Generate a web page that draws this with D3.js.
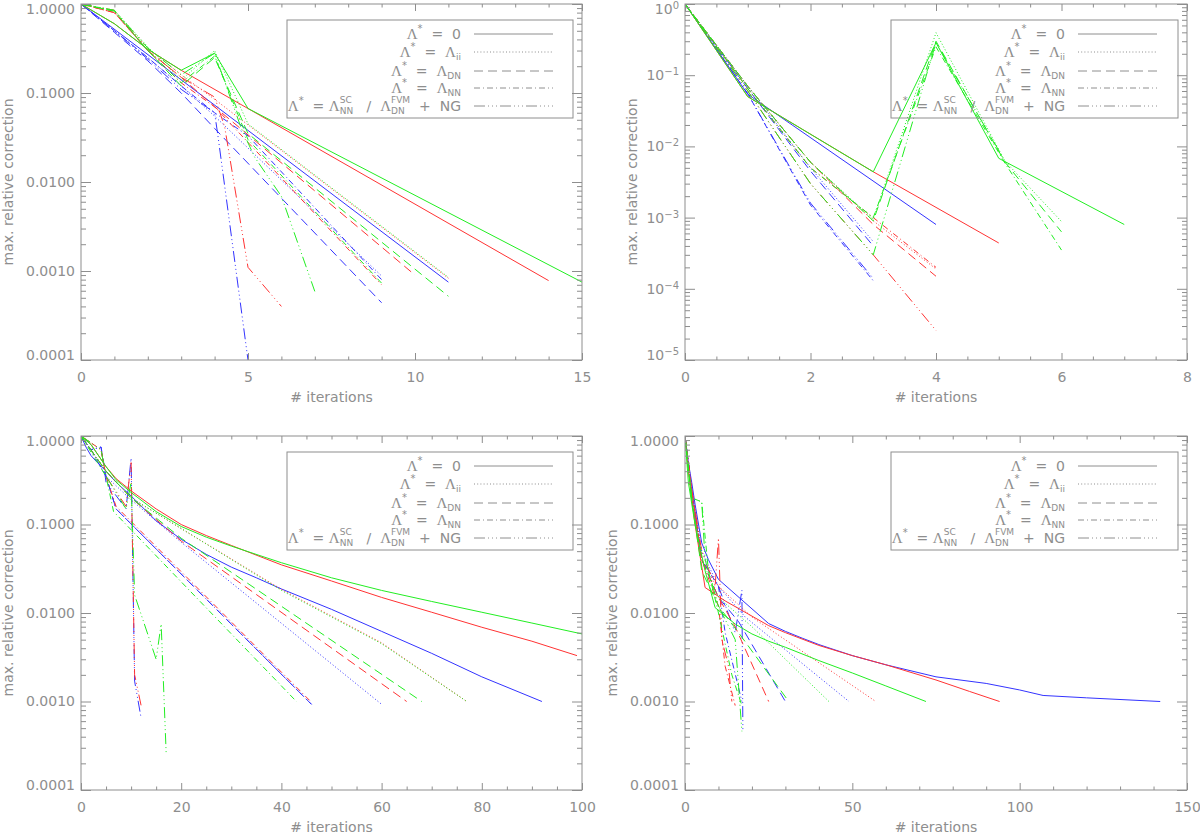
<!DOCTYPE html>
<html>
<head>
<meta charset="utf-8">
<script src="https://cdn.jsdelivr.net/npm/d3@7"></script>
<style>
  body { margin: 0; background: #fff; }
  svg text { font-family: "DejaVu Sans", sans-serif; fill: #8e8e8e; }
</style>
</head>
<body>
<svg id="chart" width="1200" height="835"></svg>
<script>
// Each colour holds five runs, in legend order:
// Λ*=0 (solid), Λii (dotted), ΛDN (dashed), ΛNN (dash-dot), NG (dash-dot-dot-dot)

// top left
const p1Blue = [
  [[0,1],[11,0.00075]],
  [[0,1],[1,0.5],[2,0.25],[3,0.12],[4,0.055],[9,0.00088]],
  [[0,1],[1,0.48],[2,0.23],[3,0.1],[4,0.04],[9,0.00044]],
  [[0,1],[1,0.5],[2,0.25],[3,0.12],[4,0.06],[5,0.033],[9,0.0008]],
  [[0,1],[1,0.5],[2,0.24],[3,0.11],[4,0.06],[4.1,0.033],[5,0.0001]]
];
const p1Red = [
  [[0,1],[1,0.6],[2,0.31],[3,0.18],[14,0.00078]],
  [[0,1],[1,0.8],[2,0.32],[3,0.16],[4,0.085],[11,0.00083]],
  [[0,1],[1,0.8],[2,0.3],[3,0.15],[4,0.07],[10,0.0009]],
  [[0,1],[1,0.8],[2,0.3],[3,0.13],[4,0.07],[9,0.0007]],
  [[0,1],[1,0.85],[2,0.3],[3,0.15],[4,0.09],[4.3,0.042],[5,0.0011],[6,0.0004]]
];
const p1Green = [
  [[0,1],[1,0.6],[2,0.31],[3,0.18],[4,0.28],[5,0.067],[15,0.00075]],
  [[0,1],[1,0.85],[2,0.33],[3,0.14],[4,0.3],[5,0.045],[11,0.00085]],
  [[0,1],[1,0.83],[2,0.3],[3,0.12],[4,0.25],[5,0.035],[11,0.00052]],
  [[0,1],[1,0.83],[2,0.3],[3,0.13],[4,0.26],[5,0.03],[9,0.00073]],
  [[0,1],[1,0.85],[2,0.32],[3,0.16],[4,0.28],[4.8,0.04],[5.2,0.019],[6,0.0069],[7,0.00059]]
];

// top right
const p2Blue = [
  [[0,1],[1,0.054],[4,0.0008]],
  [[0,1],[1,0.07],[2,0.005],[3,0.00046]],
  [[0,1],[1,0.065],[2,0.0045],[3,0.0004]],
  [[0,1],[1,0.055],[2,0.0015],[3,0.00013]],
  [[0,1],[1,0.055],[2,0.0016],[3,0.00014]]
];
const p2Red = [
  [[0,1],[1,0.05],[3,0.0044],[5,0.00044]],
  [[0,1],[1,0.07],[2,0.006],[3,0.0009],[4,0.00019]],
  [[0,1],[1,0.07],[2,0.006],[3,0.0008],[4,0.00015]],
  [[0,1],[1,0.065],[2,0.005],[3,0.001],[4,0.0002]],
  [[0,1],[1,0.06],[2,0.003],[3,0.0003],[4,0.000026]]
];
const p2Green = [
  [[0,1],[1,0.05],[3,0.0044],[4,0.286],[5,0.0068],[7,0.0008]],
  [[0,1],[1,0.07],[2,0.006],[3,0.00095],[4,0.395],[5.1,0.0062],[6,0.00088]],
  [[0,1],[1,0.07],[2,0.006],[3,0.0009],[4,0.3],[5.1,0.006],[6,0.00063]],
  [[0,1],[1,0.065],[2,0.005],[3,0.001],[4,0.25],[5.1,0.0058],[6,0.00035]],
  [[0,1],[1,0.06],[2,0.003],[3,0.0003],[4,0.286],[5.1,0.0062]]
];

// bottom left
const p3Blue = [
  [[0,1],[1,0.75],[2,0.6],[3,0.52],[5,0.4],[7,0.3],[10,0.21],[15,0.11],[20,0.068],[25,0.046],
   [30,0.033],[35,0.025],[40,0.0187],[50,0.011],[60,0.0062],[70,0.0035],[80,0.0019],[92,0.001]],
  [[0,1],[2,0.7],[5,0.35],[10,0.19],[20,0.063],[60,0.00093]],
  [[0,1],[2,0.7],[5,0.35],[7,0.15],[46,0.00093]],
  [[0,1],[2,0.7],[4,0.75],[5,0.35],[7,0.15],[46,0.00093]],
  [[0,1],[2,0.7],[4,0.75],[5,0.3],[9,0.15],[10,0.56],[10.7,0.0017],[12,0.00065]]
];
const p3Red = [
  [[0,1],[2,0.8],[5,0.45],[7,0.33],[10,0.24],[15,0.15],[20,0.1],[25,0.075],[30,0.058],[40,0.035],
   [50,0.023],[60,0.015],[70,0.0102],[80,0.0069],[90,0.0048],[99,0.0033]],
  [[0,1],[5,0.4],[10,0.2],[20,0.09],[40,0.0185],[60,0.0046],[77,0.001]],
  [[0,1],[5,0.4],[10,0.2],[20,0.065],[65,0.001]],
  [[0,1],[4,0.7],[5,0.35],[7,0.16],[46,0.00098]],
  [[0,1],[4,0.7],[5,0.35],[9,0.16],[10,0.5],[10.7,0.002],[12,0.0009]]
];
const p3Green = [
  [[0,1],[2,0.8],[5,0.45],[7,0.32],[10,0.23],[15,0.14],[20,0.095],[25,0.072],[30,0.057],[40,0.037],
   [50,0.025],[60,0.018],[70,0.0135],[80,0.0102],[90,0.0077],[100,0.0058]],
  [[0,1],[5,0.4],[10,0.2],[20,0.09],[40,0.018],[60,0.0045],[77,0.001]],
  [[0,1],[5,0.4],[10,0.2],[20,0.07],[68,0.001]],
  [[0,1],[5,0.35],[6.5,0.14],[43,0.001]],
  [[0,1],[4,0.7],[5,0.35],[9,0.15],[10,0.3],[10.7,0.016],[15,0.003],[16,0.0075],[17,0.00026]]
];

// bottom right
const p4Blue = [
  [[0,1],[1,0.5],[2,0.3],[3,0.17],[5,0.062],[7,0.04],[10,0.024],[25,0.0076],[30,0.0062],[35,0.0052],
   [40,0.0044],[50,0.0033],[60,0.0026],[75,0.0019],[90,0.0016],[100,0.00135],[107,0.00117],[120,0.0011],[142,0.001]],
  [[0,1],[2,0.25],[5,0.05],[10,0.02],[18,0.009],[49,0.001]],
  [[0,1],[2,0.25],[5,0.04],[10,0.015],[16,0.008],[30,0.001]],
  [[0,1],[2,0.25],[5,0.04],[10,0.02],[12,0.006],[17,0.001]],
  [[0,1],[2,0.2],[5,0.04],[10,0.02],[15,0.006],[17,0.018],[17.3,0.00046]]
];
const p4Red = [
  [[0,1],[1,0.4],[3,0.1],[6,0.0194],[12,0.0137],[25,0.0072],[30,0.006],[40,0.0043],[50,0.0033],
   [60,0.0026],[75,0.00175],[85,0.0013],[94,0.001]],
  [[0,1],[2,0.25],[5,0.04],[10,0.02],[20,0.009],[57,0.001]],
  [[0,1],[2,0.25],[5,0.04],[10,0.015],[15,0.007],[25,0.001]],
  [[0,1],[2,0.2],[5,0.04],[10,0.012],[12,0.0025],[15,0.0009]],
  [[0,1],[2,0.25],[5,0.05],[9,0.02],[10,0.07],[11,0.005],[13,0.0025],[14,0.001]]
];
const p4Green = [
  [[0,1],[1,0.3],[3,0.1],[6,0.03],[9,0.0115],[15,0.0075],[20,0.0058],[25,0.0048],[30,0.0041],
   [40,0.0029],[50,0.0021],[60,0.0015],[72,0.001]],
  [[0,1],[2,0.2],[5,0.04],[10,0.015],[20,0.007],[43,0.001]],
  [[0,1],[2,0.2],[5,0.03],[10,0.012],[16,0.006],[31,0.001]],
  [[0,1],[2,0.2],[5,0.18],[7,0.03],[10,0.01],[14,0.002],[17,0.0009]],
  [[0,1],[2,0.2],[5,0.18],[6,0.04],[10,0.012],[15,0.005],[17,0.00046]]
];

// axis ticks
const p1XTicks = [0, 5, 10, 15];
const p2XTicks = [0, 2, 4, 6, 8];
const p3XTicks = [0, 20, 40, 60, 80, 100];
const p4XTicks = [0, 50, 100, 150];
const yDecades4 = [1e-4, 1e-3, 1e-2, 1e-1, 1];
const yDecades5 = [1e-5, 1e-4, 1e-3, 1e-2, 1e-1, 1];

const xTitle = "# iterations";
const yTitle = "max. relative correction";

// legend labels, pieces laid out left to right
const legendLabels = [
  [{t: "Λ", serif: true}, {sup: "*"}, {t: "  =  "}, {t: "0"}],
  [{t: "Λ", serif: true}, {sup: "*"}, {t: "  =  "}, {t: "Λ", serif: true}, {sub: "ii"}],
  [{t: "Λ", serif: true}, {sup: "*"}, {t: "  =  "}, {t: "Λ", serif: true}, {sub: "DN"}],
  [{t: "Λ", serif: true}, {sup: "*"}, {t: "  =  "}, {t: "Λ", serif: true}, {sub: "NN"}],
  [{t: "Λ", serif: true}, {sup: "*"}, {t: "  = "}, {t: "Λ", serif: true}, {stack: ["SC", "NN"]},
   {t: "   /  "}, {t: "Λ", serif: true}, {stack: ["FVM", "DN"]}, {t: "  +  "}, {t: "NG"}]
];

const colours = ["#3333ff", "#ff3333", "#22ee22"];   // blue, red, green (draw order)
const dashes = [null, "1,2.2", "9,5", "6,3,1,3", "11,3,1,3,1,3,1,3"];
const grey = "#8e8e8e";

const svg = d3.select("#chart");

const panels = [
  {left: 81,  top: 4,   right: 582,  bottom: 360, xMax: 15,  xTicks: p1XTicks, xMinor: 1,   yTicks: yDecades4, pow: false, sets: [p1Blue, p1Red, p1Green]},
  {left: 685, top: 4,   right: 1187, bottom: 360, xMax: 8,   xTicks: p2XTicks, xMinor: 0.5, yTicks: yDecades5, pow: true,  sets: [p2Blue, p2Red, p2Green]},
  {left: 81,  top: 436, right: 582,  bottom: 790, xMax: 100, xTicks: p3XTicks, xMinor: 5,   yTicks: yDecades4, pow: false, sets: [p3Blue, p3Red, p3Green]},
  {left: 685, top: 436, right: 1187, bottom: 790, xMax: 150, xTicks: p4XTicks, xMinor: 10,  yTicks: yDecades4, pow: false, sets: [p4Blue, p4Red, p4Green]}
];

function cleanAxis(sel) {
  sel.attr("font-family", null).attr("font-size", null);
  sel.select(".domain").remove();
  sel.selectAll("line").attr("stroke", grey);
  sel.selectAll("text").attr("fill", grey).style("font-size", "14px");
}

function drawPanel(p, idx) {
  const x = d3.scaleLinear().domain([0, p.xMax]).range([p.left, p.right]);
  const y = d3.scaleLog().domain([p.yTicks[0], 1]).range([p.bottom, p.top]);
  const g = svg.append("g");

  svg.append("clipPath").attr("id", `clip-${idx}`)
    .append("rect")
    .attr("x", p.left).attr("y", p.top)
    .attr("width", p.right - p.left).attr("height", p.bottom - p.top);

  // minor tick positions
  const xMinor = d3.range(0, p.xMax + 1e-9, p.xMinor).filter(v => !p.xTicks.includes(v));
  const yMinor = [];
  p.yTicks.slice(0, -1).forEach(d => {
    for (let k = 2; k <= 9; k++) yMinor.push(d * k);
  });

  // series
  const line = d3.line().x(d => x(d[0])).y(d => y(d[1]));
  const plot = g.append("g").attr("clip-path", `url(#clip-${idx})`);
  p.sets.forEach((set, ci) => {
    set.forEach((pts, si) => {
      plot.append("path")
        .attr("d", line(pts))
        .attr("fill", "none")
        .attr("stroke", colours[ci])
        .attr("stroke-width", 1)
        .attr("stroke-linejoin", "round")
        .attr("stroke-dasharray", dashes[si]);
    });
  });

  // frame
  g.append("rect")
    .attr("x", p.left).attr("y", p.top)
    .attr("width", p.right - p.left).attr("height", p.bottom - p.top)
    .attr("fill", "none").attr("stroke", grey).attr("stroke-width", 1);

  // x axes (ticks pointing inwards)
  g.append("g").attr("transform", `translate(0,${p.bottom})`)
    .call(d3.axisBottom(x).tickValues(p.xTicks).tickSize(-7).tickPadding(12).tickFormat(d3.format("d")))
    .call(cleanAxis);
  g.append("g").attr("transform", `translate(0,${p.bottom})`)
    .call(d3.axisBottom(x).tickValues(xMinor).tickSize(-3.5).tickFormat(""))
    .call(cleanAxis);
  g.append("g").attr("transform", `translate(0,${p.top})`)
    .call(d3.axisTop(x).tickValues(p.xTicks).tickSize(-7).tickFormat(""))
    .call(cleanAxis);
  g.append("g").attr("transform", `translate(0,${p.top})`)
    .call(d3.axisTop(x).tickValues(xMinor).tickSize(-3.5).tickFormat(""))
    .call(cleanAxis);

  // y axes
  const yLeft = g.append("g").attr("transform", `translate(${p.left},0)`)
    .call(d3.axisLeft(y).tickValues(p.yTicks).tickSize(-10).tickPadding(6)
      .tickFormat(p.pow ? () => "" : d3.format(".4f")))
    .call(cleanAxis);
  if (p.pow) {
    yLeft.selectAll(".tick text").each(function (d) {
      const t = d3.select(this);
      const e = Math.round(Math.log10(d));
      t.append("tspan").text("10");
      t.append("tspan").attr("dy", "-0.5em").style("font-size", "10px")
        .text(e === 0 ? "0" : "\u2212" + Math.abs(e));
    });
  }
  yLeft.selectAll(".tick text")
    .attr("transform", d => d === 1 ? "translate(0,5)" : d === p.yTicks[0] ? "translate(0,-5)" : null);
  g.append("g").attr("transform", `translate(${p.left},0)`)
    .call(d3.axisLeft(y).tickValues(yMinor).tickSize(-5).tickFormat(""))
    .call(cleanAxis);
  g.append("g").attr("transform", `translate(${p.right},0)`)
    .call(d3.axisRight(y).tickValues(p.yTicks).tickSize(-10).tickFormat(""))
    .call(cleanAxis);
  g.append("g").attr("transform", `translate(${p.right},0)`)
    .call(d3.axisRight(y).tickValues(yMinor).tickSize(-5).tickFormat(""))
    .call(cleanAxis);

  // axis titles
  g.append("text")
    .attr("x", (p.left + p.right) / 2).attr("y", p.bottom + 42)
    .attr("text-anchor", "middle").style("font-size", "14px")
    .text(xTitle);
  const ty = (p.top + p.bottom) / 2;
  const tx = p.left - (p.pow ? 48 : 68);
  g.append("text")
    .attr("transform", `translate(${tx},${ty}) rotate(-90)`)
    .attr("text-anchor", "middle").style("font-size", "14px")
    .text(yTitle);

  drawLegend(g, p);
}

function drawLegend(g, p) {
  const bx = p.left + 206, by = p.top + 16;
  const bw = p.right - 9 - bx, bh = 98;
  g.append("rect")
    .attr("x", bx).attr("y", by).attr("width", bw).attr("height", bh)
    .attr("fill", "none").attr("stroke", grey).attr("stroke-width", 1);

  const rowY = [14, 32, 51, 68, 86];
  legendLabels.forEach((parts, i) => {
    const cy = by + rowY[i];
    const base = cy + 5;
    const row = g.append("g");
    let cx = 0;
    parts.forEach(part => {
      if (part.stack) {
        const a = row.append("text").attr("x", cx).attr("y", base - 8).style("font-size", "9px").text(part.stack[0]);
        const b = row.append("text").attr("x", cx).attr("y", base + 3).style("font-size", "9px").text(part.stack[1]);
        cx += Math.max(a.node().getComputedTextLength(), b.node().getComputedTextLength());
      } else if (part.sup) {
        const s = row.append("text").attr("x", cx).attr("y", base - 7).style("font-size", "10px").text(part.sup);
        cx += s.node().getComputedTextLength();
      } else if (part.sub) {
        const s = row.append("text").attr("x", cx).attr("y", base + 3).style("font-size", "9px").text(part.sub);
        cx += s.node().getComputedTextLength();
      } else {
        const s = row.append("text").attr("x", cx).attr("y", base)
          .style("font-size", part.serif ? "15px" : "14px")
          .style("font-family", part.serif ? "'Liberation Serif', serif" : null)
          .style("white-space", "pre")
          .text(part.t);
        cx += s.node().getComputedTextLength();
      }
    });
    row.attr("transform", `translate(${bx + 174 - cx},0)`);

    g.append("line")
      .attr("x1", bx + 187).attr("x2", bx + 266)
      .attr("y1", cy).attr("y2", cy)
      .attr("stroke", grey).attr("stroke-width", 1)
      .attr("stroke-dasharray", dashes[i]);
  });
}

panels.forEach(drawPanel);
</script>
</body>
</html>
